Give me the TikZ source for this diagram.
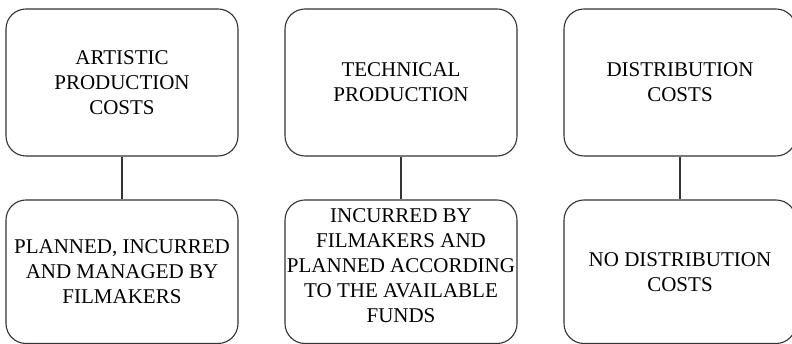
\documentclass[tikz,border=0pt]{standalone}
\usepackage{fontspec}
\setmainfont{Liberation Serif}
\begin{document}
\begin{tikzpicture}[x=1pt,y=1pt,
 box/.style={draw=black!80, line width=1.1pt, rounded corners=20pt, minimum width=232pt, inner sep=0pt,
   align=center, font=\fontsize{21}{25}\selectfont},
 topbox/.style={box, minimum height=147pt},
 botbox/.style={box, minimum height=143.5pt},
 txt/.style={align=center, font=\fontsize{21}{25}\selectfont, inner sep=0pt},
 link/.style={draw=black!80, line width=1.1pt}]
\useasboundingbox (0,0) rectangle (792,344);
\node[topbox] (a1) at (122,261.5) {ARTISTIC\\PRODUCTION\\COSTS};
\node[topbox] (a2) at (401,261.5) {TECHNICAL\\PRODUCTION};
\node[topbox] (a3) at (680,261.5) {DISTRIBUTION\\COSTS};
\node[botbox] (b1) at (122,72.25) {PLANNED, INCURRED\\AND MANAGED BY\\FILMAKERS};
\node[botbox] (b2) at (401,72.25) {};
\node[txt] (t2) at (401,78.5) {INCURRED BY\\FILMAKERS AND\\PLANNED ACCORDING\\TO THE AVAILABLE\\FUNDS};
\node[botbox] (b3) at (680,72.25) {NO DISTRIBUTION\\COSTS};
\draw[link] (a1) -- (b1);
\draw[link] (a2) -- (b2);
\draw[link] (a3) -- (b3);
\end{tikzpicture}
\end{document}
